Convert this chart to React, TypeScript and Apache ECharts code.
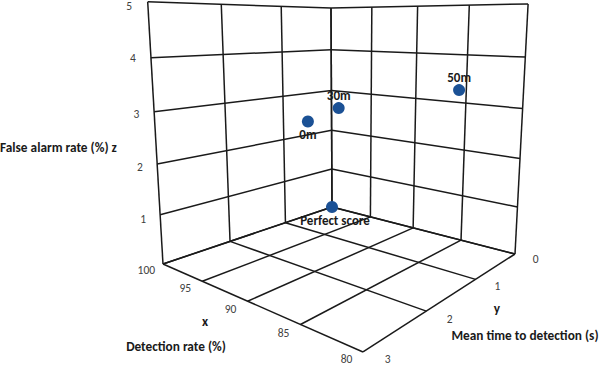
import React, { useEffect, useRef } from 'react';
import * as echarts from 'echarts';

// ---- axes (ticks) ----
const X_TICKS = [100, 95, 90, 85, 80]; // Detection rate (%)
const Y_TICKS = [0, 1, 2, 3]; // Mean time to detection (s)
const Z_TICKS = [0, 1, 2, 3, 4, 5]; // False alarm rate (%)
const Z_LABELS = [1, 2, 3, 4, 5];

// ---- data ----
const POINT_NAMES = ['Perfect score', '0m', '30m', '50m'];
const DETECTION = [100, 96.9, 93.3, 81.9];
const MEAN_TIME = [0, 1, 1, 1];
const FALSE_ALARM = [0, 2.5, 2.88, 3.46];
const LABEL_SIDE = ['bottom', 'bottom', 'top', 'top'];

// ---- 3D box ranges ----
const X_RANGE = [100, 80];
const Y_RANGE = [0, 3];
const Z_RANGE = [0, 5];

// perspective camera (homogeneous 3x4 matrix over the normalised box)
const CAM = [
  [78.3, -208.04, -20.2, 332],
  [-4.64, -6.23, -199.46, 207],
  [-0.2033, -0.2395, -0.058, 1],
];

function project(X: number, Y: number, Z: number): [number, number] {
  const s = (X - X_RANGE[0]) / (X_RANGE[1] - X_RANGE[0]);
  const t = (Y - Y_RANGE[0]) / (Y_RANGE[1] - Y_RANGE[0]);
  const r = (Z - Z_RANGE[0]) / (Z_RANGE[1] - Z_RANGE[0]);
  const w = CAM[2][0] * s + CAM[2][1] * t + CAM[2][2] * r + CAM[2][3];
  const u = (CAM[0][0] * s + CAM[0][1] * t + CAM[0][2] * r + CAM[0][3]) / w;
  const v = (CAM[1][0] * s + CAM[1][1] * t + CAM[1][2] * r + CAM[1][3]) / w;
  return [u, v];
}

const FONT = 'Carlito, Lato, "Noto Sans", sans-serif';
const LINE_COLOR = '#1a1a1a';
const DOT_COLOR = '#1b5195';
const TITLE_SIZE = 13.3;

export default function App() {
  const ref = useRef<HTMLDivElement>(null);
  useEffect(() => {
    document.body.style.margin = '0';
    const chart = echarts.init(ref.current!, null, { renderer: 'svg' });

    const xMin = X_RANGE[0], xMax = X_RANGE[1];
    const yMin = Y_RANGE[0], yMax = Y_RANGE[1];
    const zMin = Z_RANGE[0], zMax = Z_RANGE[1];

    const segments: number[][] = [];
    // floor
    X_TICKS.forEach((x) => segments.push([x, yMin, zMin, x, yMax, zMin]));
    Y_TICKS.forEach((y) => segments.push([xMin, y, zMin, xMax, y, zMin]));
    // left wall (x = 100)
    Z_TICKS.forEach((z) => segments.push([xMin, yMin, z, xMin, yMax, z]));
    Y_TICKS.forEach((y) => segments.push([xMin, y, zMin, xMin, y, zMax]));
    // right wall (y = 0)
    Z_TICKS.forEach((z) => segments.push([xMin, yMin, z, xMax, yMin, z]));
    X_TICKS.forEach((x) => segments.push([x, yMin, zMin, x, yMin, zMax]));

    // tick labels (placed just outside the box edges)
    const tickData: any[] = [];
    const labelOut = 0.22; // in y units, beyond the front edge
    X_TICKS.forEach((x) => tickData.push({ value: [x, yMax + labelOut, zMin], name: String(x) }));
    Y_TICKS.forEach((y) => tickData.push({ value: [xMax - 1.75, y, zMin], name: String(y) }));
    Z_LABELS.forEach((z) => tickData.push({ value: [xMin, yMax + labelOut, z], name: String(z) }));

    const pointData = POINT_NAMES.map((n, i) => ({
      name: n,
      value: [DETECTION[i], MEAN_TIME[i], FALSE_ALARM[i]],
    }));

    const title = (text: string, x: number, y: number, align = 'center') => ({
      type: 'text',
      x,
      y,
      silent: true,
      style: {
        text,
        fill: '#1a1a1a',
        fontSize: TITLE_SIZE,
        fontWeight: 'bold',
        fontFamily: FONT,
        align,
        verticalAlign: 'middle',
      },
    });

    const option: any = {
      animation: false,
      backgroundColor: '#ffffff',
      series: [
        {
          type: 'custom',
          coordinateSystem: 'none',
          silent: true,
          data: segments,
          renderItem: (params: any, api: any) => {
            const p1 = project(api.value(0), api.value(1), api.value(2));
            const p2 = project(api.value(3), api.value(4), api.value(5));
            return {
              type: 'line',
              shape: { x1: p1[0], y1: p1[1], x2: p2[0], y2: p2[1] },
              style: { stroke: LINE_COLOR, lineWidth: 1.5 },
            };
          },
        },
        {
          type: 'custom',
          coordinateSystem: 'none',
          silent: true,
          data: tickData,
          renderItem: (params: any, api: any) => {
            const p = project(api.value(0), api.value(1), api.value(2));
            return {
              type: 'text',
              x: p[0],
              y: Math.min(Math.max(p[1], 6), 359),
              style: {
                text: tickData[params.dataIndex].name,
                fill: '#404040',
                fontSize: 11.5,
                fontFamily: FONT,
                align: 'center',
                verticalAlign: 'middle',
              },
            };
          },
        },
        {
          type: 'custom',
          coordinateSystem: 'none',
          silent: true,
          data: pointData,
          z: 5,
          renderItem: (params: any, api: any) => {
            const p = project(api.value(0), api.value(1), api.value(2));
            const i = params.dataIndex;
            const below = LABEL_SIDE[i] === 'bottom';
            return {
              type: 'group',
              children: [
                {
                  type: 'circle',
                  shape: { cx: p[0], cy: p[1], r: 6 },
                  style: { fill: DOT_COLOR },
                },
                {
                  type: 'text',
                  x: p[0] + (i === 0 ? 3 : 0),
                  y: p[1] + (below ? 13 : -13),
                  style: {
                    text: POINT_NAMES[i],
                    fill: '#1a1a1a',
                    fontSize: 13,
                    fontWeight: 'bold',
                    fontFamily: FONT,
                    align: 'center',
                    verticalAlign: 'middle',
                  },
                },
              ],
            };
          },
        },
      ],
      graphic: [
        title('False alarm rate (%) z', 0, 147, 'left'),
        title('x', 205, 321),
        title('Detection rate (%)', 176, 346),
        title('y', 497, 308),
        title('Mean time to detection (s)', 525, 335),
      ],
    };

    chart.setOption(option);
    return () => chart.dispose();
  }, []);
  return <div ref={ref} style={{ width: 600, height: 366 }} />;
}
